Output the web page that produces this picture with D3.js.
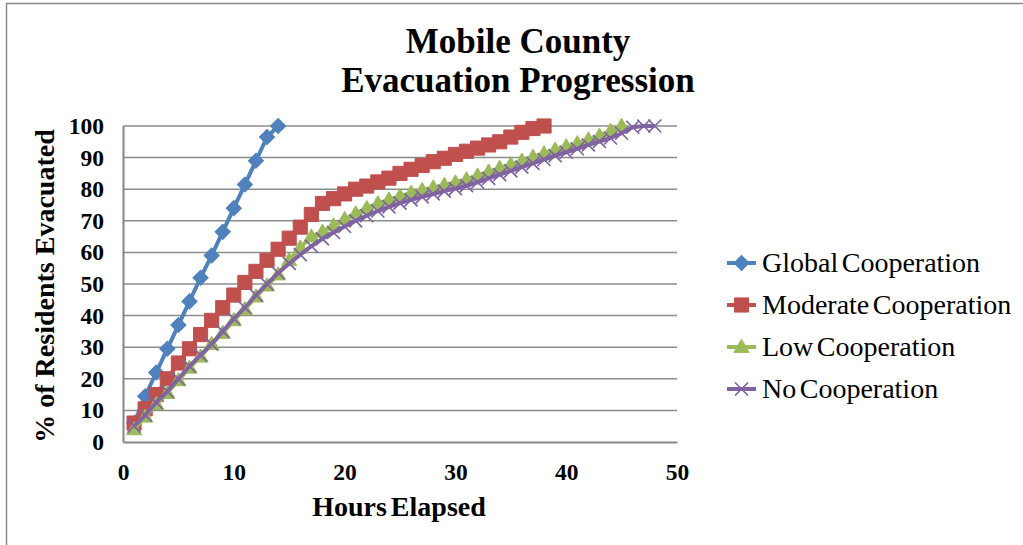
<!DOCTYPE html>
<html>
<head>
<meta charset="utf-8">
<script src="https://cdn.jsdelivr.net/npm/d3@7"></script>
<style>
  html, body { margin: 0; padding: 0; background: #fff; }
  svg { display: block; }
</style>
</head>
<body>
<svg id="chart" width="1023" height="545"></svg>
<script>
// Hours since the evacuation order and % of residents evacuated, per scenario
const hoursGlobal = d3.range(1, 15);
const globalCoop = [6, 14.5, 22, 29.5, 37, 44.5, 52, 59, 66.5, 74, 81.5, 89, 96.5, 100];

const hoursModerate = d3.range(1, 39);
const moderateCoop = [6, 10.5, 15, 20, 25, 29.5, 34, 38.5, 42.5, 46.5, 50.5, 54, 57.5, 61,
  64.5, 68, 72, 75.5, 77, 78.5, 80, 81, 82.3, 83.5, 85, 86.3, 87.5, 88.7, 89.8, 91,
  92, 93, 94, 95, 96.5, 98, 99.2, 100];

const hoursLow = d3.range(1, 46);
const lowCoop = [4, 8, 12, 15.5, 19.5, 23.5, 27, 31, 34.5, 38.5, 42, 46, 49.5, 53, 57.5,
  61.5, 65, 66.5, 68.5, 70.5, 72.3, 74, 75.5, 76.7, 77.8, 78.8, 79.7, 80.5, 81.3, 82.1,
  83.1, 84.3, 85.5, 86.7, 87.8, 89, 90.2, 91.3, 92.5, 93.5, 94.5, 95.7, 96.9, 98.4, 100];

const hoursNone = d3.range(1, 49);
const noCoop = [5, 8.5, 12.5, 16, 20, 24, 27.5, 31, 35, 39, 42.5, 46.5, 50, 53.5, 56.5,
  59.3, 62, 64.3, 66.3, 68.2, 70, 71.6, 73.1, 74.4, 75.6, 76.6, 77.6, 78.5, 79.4, 80.2,
  81.1, 82.2, 83.4, 84.6, 85.8, 87, 88.2, 89.4, 90.6, 91.7, 92.8, 94, 95.1, 96.2, 97.7,
  99.6, 100, 100];

const seriesNames = ["Global Cooperation", "Moderate Cooperation", "Low Cooperation", "No Cooperation"];
const seriesColors = ["#4F81BD", "#C0504D", "#9BBB59", "#8064A2"];
const seriesShapes = ["diamond", "square", "triangle", "x"];

const xTicks = [0, 10, 20, 30, 40, 50];
const yTicks = [0, 10, 20, 30, 40, 50, 60, 70, 80, 90, 100];

const series = [
  { hours: hoursGlobal, values: globalCoop },
  { hours: hoursModerate, values: moderateCoop },
  { hours: hoursLow, values: lowCoop },
  { hours: hoursNone, values: noCoop }
].map((s, i) => ({
  name: seriesNames[i],
  color: seriesColors[i],
  shape: seriesShapes[i],
  points: s.hours.map((h, j) => ({ x: h, y: s.values[j] }))
}));

const svg = d3.select("#chart");
const serif = "'Liberation Serif', 'Times New Roman', serif";

// outer chart frame
svg.append("rect")
  .attr("x", 6.5).attr("y", 3.5)
  .attr("width", 1040).attr("height", 560)
  .attr("fill", "#fff").attr("stroke", "#8a8a8a").attr("stroke-width", 1.5);

const plot = { left: 123, right: 677, top: 126, bottom: 442 };
const x = d3.scaleLinear().domain([0, 50]).range([plot.left, plot.right]);
const y = d3.scaleLinear().domain([0, 100]).range([plot.bottom, plot.top]);

// horizontal gridlines
svg.append("g")
  .selectAll("line")
  .data(yTicks.filter(d => d > 0))
  .join("line")
  .attr("x1", plot.left).attr("x2", plot.right)
  .attr("y1", d => y(d)).attr("y2", d => y(d))
  .attr("stroke", "#8c8c8c").attr("stroke-width", 1.5);

// axes
const yAxis = svg.append("g")
  .attr("transform", `translate(${plot.left},0)`)
  .call(d3.axisLeft(y).tickValues(yTicks).tickSize(0).tickPadding(19));
const xAxis = svg.append("g")
  .attr("transform", `translate(0,${plot.bottom})`)
  .call(d3.axisBottom(x).tickValues(xTicks).tickSize(0).tickPadding(21));

[yAxis, xAxis].forEach(g => {
  g.select(".domain").attr("stroke", "#868686").attr("stroke-width", 2);
  g.selectAll("text")
    .attr("font-family", serif)
    .attr("font-weight", "bold")
    .attr("font-size", 23.5)
    .attr("fill", "#000");
});

// titles
svg.append("text")
  .attr("x", 518).attr("y", 53)
  .attr("text-anchor", "middle")
  .attr("font-family", serif).attr("font-weight", "bold").attr("font-size", 35)
  .text("Mobile County");
svg.append("text")
  .attr("x", 518).attr("y", 92)
  .attr("text-anchor", "middle")
  .attr("font-family", serif).attr("font-weight", "bold").attr("font-size", 35)
  .text("Evacuation Progression");

svg.append("text")
  .attr("x", 399).attr("y", 516)
  .attr("text-anchor", "middle")
  .attr("font-family", serif).attr("font-weight", "bold").attr("font-size", 28)
  .attr("word-spacing", -3)
  .text("Hours Elapsed");

svg.append("text")
  .attr("transform", "translate(54,286) rotate(-90)")
  .attr("text-anchor", "middle")
  .attr("font-family", serif).attr("font-weight", "bold").attr("font-size", 28)
  .text("% of Residents Evacuated");

// marker shapes
function markerPath(shape) {
  if (shape === "diamond") return d3.symbol(d3.symbolSquare, 115)();
  if (shape === "square") return d3.symbol(d3.symbolSquare, 200)();
  if (shape === "triangle") return d3.symbol(d3.symbolTriangle, 100)();
  const r = 6.5;
  const p = d3.path();
  p.moveTo(-r, -r); p.lineTo(r, r);
  p.moveTo(r, -r); p.lineTo(-r, r);
  return p.toString();
}
function drawMarker(g, shape, color) {
  const path = g.append("path").attr("d", markerPath(shape));
  if (shape === "x") {
    path.attr("fill", "none").attr("stroke", color).attr("stroke-width", 1.7);
  } else {
    path.attr("fill", color).attr("stroke", color).attr("stroke-width", 1);
  }
  if (shape === "diamond") path.attr("transform", "rotate(45)");
  if (shape === "triangle") path.attr("transform", "translate(0,1)");
  return path;
}

const line = d3.line().x(d => x(d.x)).y(d => y(d.y));

series.forEach(s => {
  const g = svg.append("g");
  g.append("path")
    .datum(s.points)
    .attr("d", line)
    .attr("fill", "none")
    .attr("stroke", s.color)
    .attr("stroke-width", 4)
    .attr("stroke-linejoin", "round");
  g.selectAll("g.pt")
    .data(s.points)
    .join("g")
    .attr("class", "pt")
    .attr("transform", d => `translate(${x(d.x)},${y(d.y)})`)
    .each(function () { drawMarker(d3.select(this), s.shape, s.color); });
});

// legend
const legend = svg.append("g");
series.forEach((s, i) => {
  const ly = 263 + i * 42;
  const item = legend.append("g").attr("transform", `translate(0,${ly})`);
  item.append("line")
    .attr("x1", 727).attr("x2", 756)
    .attr("stroke", s.color).attr("stroke-width", 4);
  const m = item.append("g").attr("transform", "translate(741.5,0)");
  drawMarker(m, s.shape, s.color);
  item.append("text")
    .attr("x", 762).attr("y", 9)
    .attr("font-family", serif).attr("font-size", 28)
    .attr("word-spacing", -3.5)
    .text(s.name);
});
</script>
</body>
</html>
